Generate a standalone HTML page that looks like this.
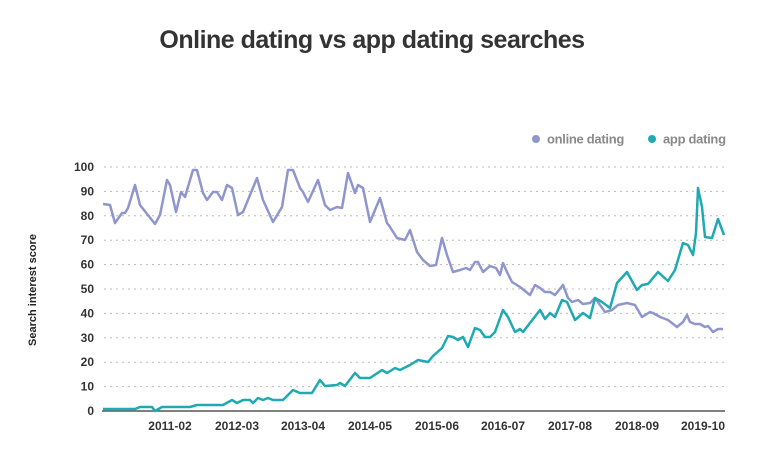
<!DOCTYPE html>
<html><head><meta charset="utf-8"><style>
html,body{margin:0;padding:0;background:#fff;}
svg{display:block;font-family:"Liberation Sans",sans-serif;}
</style></head><body>
<svg width="762" height="462" viewBox="0 0 762 462">
<text x="372" y="48" text-anchor="middle" font-size="25" font-weight="bold" fill="#333" letter-spacing="-0.5">Online dating vs app dating searches</text>
<circle cx="536" cy="139" r="4" fill="#8f96cd"/>
<text x="547" y="143.5" font-size="13" font-weight="bold" fill="#8a8a8a" letter-spacing="-0.3">online dating</text>
<circle cx="652" cy="139" r="4" fill="#1fa9b0"/>
<text x="663" y="143.5" font-size="13" font-weight="bold" fill="#8a8a8a" letter-spacing="-0.3">app dating</text>
<text transform="translate(36,290) rotate(-90)" text-anchor="middle" font-size="11" font-weight="bold" fill="#222">Search interest score</text>
<g stroke="#bbb" stroke-width="1" stroke-dasharray="2,4">
<line x1="104" x2="725" y1="167" y2="167"/><line x1="104" x2="725" y1="191.4" y2="191.4"/>
<line x1="104" x2="725" y1="215.8" y2="215.8"/><line x1="104" x2="725" y1="240.2" y2="240.2"/>
<line x1="104" x2="725" y1="264.6" y2="264.6"/><line x1="104" x2="725" y1="289" y2="289"/>
<line x1="104" x2="725" y1="313.4" y2="313.4"/><line x1="104" x2="725" y1="337.8" y2="337.8"/>
<line x1="104" x2="725" y1="362.2" y2="362.2"/><line x1="104" x2="725" y1="386.6" y2="386.6"/>
</g>
<line x1="102" x2="725" y1="411" y2="411" stroke="#555" stroke-width="1.5"/>
<g font-size="12" font-weight="bold" fill="#333" text-anchor="end">
<text x="94" y="171">100</text><text x="94" y="195.4">90</text><text x="94" y="219.8">80</text>
<text x="94" y="244.2">70</text><text x="94" y="268.6">60</text><text x="94" y="293">50</text>
<text x="94" y="317.4">40</text><text x="94" y="341.8">30</text><text x="94" y="366.2">20</text>
<text x="94" y="390.6">10</text><text x="94" y="415">0</text>
</g>
<g font-size="12" font-weight="bold" fill="#333" text-anchor="middle">
<text x="170" y="430">2011-02</text><text x="237" y="430">2012-03</text><text x="303" y="430">2013-04</text>
<text x="370" y="430">2014-05</text><text x="437" y="430">2015-06</text><text x="503" y="430">2016-07</text>
<text x="570" y="430">2017-08</text><text x="637" y="430">2018-09</text><text x="703" y="430">2019-10</text>
</g>
<polyline fill="none" stroke="#8f96cd" stroke-width="2.5" stroke-linejoin="round" points="103,204 110,205 115,223 122,213 125,213 128,208 135,185 140,205 155,224 160,215 167,180 170,185 176,212 181,192 185,197 193,170 197,170 203,193 207,200 213,192 217,192 222,200 227,185 232,188 238,215 243,212 250,195 257,178 263,200 273,222 282,207 288,170 293,170 300,188 303,192 308,202 318,180 325,205 330,210 337,207 342,208 348,173 355,193 358,185 363,188 370,222 380,198 387,223 390,227 397,238 405,240 410,230 417,252 423,260 430,266 436,265 442,238 447,255 453,272 460,270 466,268 470,270 475,262 478,262 483,272 490,266 496,268 500,275 503,263 507,272 512,282 520,287 530,295 535,285 540,288 545,292 550,292 555,295 563,285 568,298 572,302 578,300 583,304 590,303 595,298 600,305 605,312 612,310 618,305 627,303 635,305 642,317 650,312 653,313 660,317 668,320 677,327 683,322 687,315 690,322 695,324 700,324 705,327 708,326 713,332 718,329 723,329"/>
<polyline fill="none" stroke="#1fa9b0" stroke-width="2.5" stroke-linejoin="round" points="103,409 135,409 140,407 152,407 155,411 162,407 190,407 197,405 223,405 232,400 237,403 243,400 250,400 253,403 258,398 263,400 268,398 273,400 283,400 293,390 300,393 312,393 320,380 325,386 337,385 340,383 345,386 355,373 360,378 370,378 382,370 387,373 395,368 400,370 410,365 418,360 428,362 433,356 442,348 448,336 453,337 458,340 463,337 468,347 475,328 480,330 485,337 490,337 495,332 503,310 508,317 515,332 520,329 523,332 540,310 545,319 550,313 555,317 562,300 567,302 575,320 583,313 590,318 595,298 602,302 610,308 617,283 627,272 637,290 642,285 648,284 658,272 668,281 675,270 683,243 688,245 693,255 696,233 698,188 702,207 705,237 712,238 718,219 724,235"/>
</svg>
</body></html>
